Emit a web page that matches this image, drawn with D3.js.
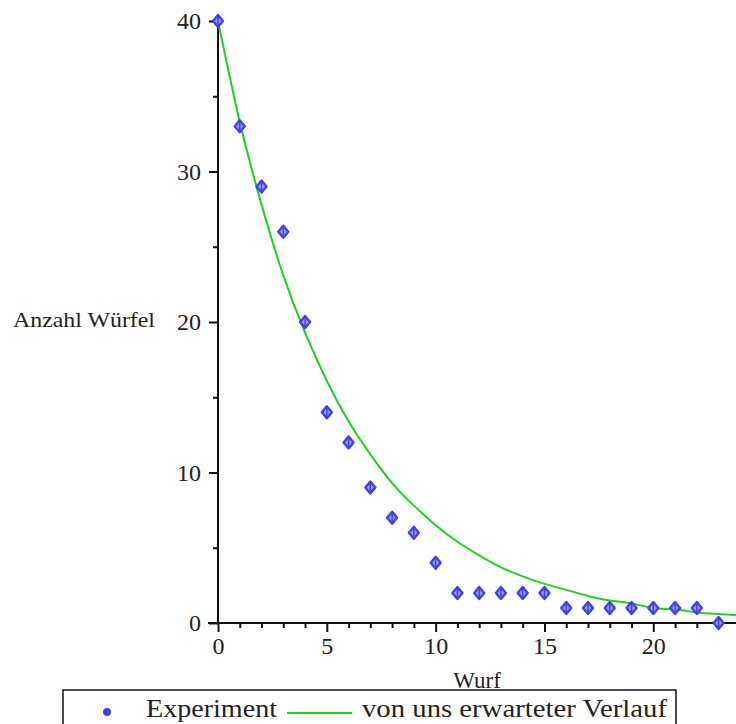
<!DOCTYPE html>
<html><head><meta charset="utf-8">
<script src="https://cdn.jsdelivr.net/npm/d3@7"></script>
<style>body{margin:0;background:#fff}svg{display:block}text{font-family:"Liberation Serif","Times New Roman",serif;fill:#222}</style>
</head><body><svg id="c" width="736" height="724"></svg>
<script>
// Data
const wurf = [0,1,2,3,4,5,6,7,8,9,10,11,12,13,14,15,16,17,18,19,20,21,22,23];
const anzahl = [40,33,29,26,20,14,12,9,7,6,4,2,2,2,2,2,1,1,1,1,1,1,1,0];
const erwartetX = [0,1,2,3,4,5,6,7,8,9,10,11,12,13,14,15,16,17,18,19,20,21,22,23,24];
const erwartetY = [40,33.3,27.8,23.1,19.3,16.1,13.4,11.2,9.3,7.8,6.5,5.4,4.5,3.7,3.1,2.6,2.2,1.8,1.5,1.3,1.0,0.9,0.7,0.6,0.5];
const xMajorTicks = [0,5,10,15,20];
const xMinorTicks = [1,2,3,4,6,7,8,9,11,12,13,14,16,17,18,19,21,22,23];
const yMajorTicks = [0,10,20,30,40];
const yMinorTicks = [5,15,25,35];
const legendLabels = ["Experiment","von uns erwarteter Verlauf"];
const xTitle = "Wurf", yTitle = "Anzahl Würfel";

const svg = d3.select("#c");
const x = d3.scaleLinear().domain([0,23.8]).range([218,736]);
const y = d3.scaleLinear().domain([0,40]).range([623,21]);
const blue = "#4040e8", green = "#22d022";

svg.append("clipPath").attr("id","clip").append("rect").attr("x",200).attr("y",0).attr("width",536).attr("height",640);

// axes
const xAxis = d3.axisBottom(x).tickValues(xMajorTicks).tickSize(9).tickPadding(5).tickFormat(d3.format("d"));
const gx = svg.append("g").attr("transform",`translate(0,${y(0)})`).call(xAxis);
gx.select(".domain").remove();
gx.selectAll(".tick line").attr("stroke","#111").attr("stroke-width",2);
gx.selectAll(".tick text").style("font-size","24px").attr("fill","#222");
svg.append("g").attr("transform",`translate(0,${y(0)})`).call(d3.axisBottom(x).tickValues(xMinorTicks).tickSize(5).tickFormat(""))
  .call(g=>{g.select(".domain").remove();g.selectAll(".tick line").attr("stroke","#111").attr("stroke-width",2);});
svg.append("line").attr("x1",x(0)-10).attr("x2",736).attr("y1",y(0)).attr("y2",y(0)).attr("stroke","#111").attr("stroke-width",2);

const yAxis = d3.axisLeft(y).tickValues(yMajorTicks).tickSize(9).tickPadding(8).tickFormat(d3.format("d"));
const gy = svg.append("g").attr("transform",`translate(${x(0)},0)`).call(yAxis);
gy.select(".domain").remove();
gy.selectAll(".tick line").attr("stroke","#111").attr("stroke-width",2);
gy.selectAll(".tick text").style("font-size","24px").attr("fill","#222");
svg.append("g").attr("transform",`translate(${x(0)},0)`).call(d3.axisLeft(y).tickValues(yMinorTicks).tickSize(5).tickFormat(""))
  .call(g=>{g.select(".domain").remove();g.selectAll(".tick line").attr("stroke","#111").attr("stroke-width",2);});
svg.append("line").attr("x1",x(0)).attr("x2",x(0)).attr("y1",y(40)).attr("y2",y(0)).attr("stroke","#111").attr("stroke-width",2);

// titles
svg.append("text").attr("x",x(11.9)).attr("y",688).attr("text-anchor","middle").style("font-size","23px").text(xTitle);
svg.append("text").attr("x",13).attr("y",327).attr("textLength",142).attr("lengthAdjust","spacingAndGlyphs").style("font-size","22px").text(yTitle);

// expected curve
const line = d3.line().x((d,i)=>x(erwartetX[i])).y(d=>y(d)).curve(d3.curveNatural);
svg.append("path").attr("clip-path","url(#clip)").datum(erwartetY).attr("d",line)
  .attr("fill","none").attr("stroke",green).attr("stroke-width",2);

// markers
const diamond = "M0,-6L5,0L0,6L-5,0Z";
const mk = svg.append("g").selectAll("g").data(anzahl).join("g")
  .attr("transform",(d,i)=>`translate(${x(wurf[i])},${y(d)})`);
mk.append("path").attr("d",diamond).attr("fill","#9c9cf6").attr("stroke",blue).attr("stroke-width",2.4).attr("stroke-linejoin","round");
mk.append("line").attr("y1",-6).attr("y2",6).attr("stroke",blue).attr("stroke-width",1.5);

// legend
svg.append("rect").attr("x",63).attr("y",690).attr("width",613).attr("height",60).attr("fill","#fff").attr("stroke","#111").attr("stroke-width",1.5);
svg.append("circle").attr("cx",107).attr("cy",712).attr("r",4).attr("fill",blue);
svg.append("text").attr("x",146).attr("y",717).attr("textLength",131).attr("lengthAdjust","spacingAndGlyphs").style("font-size","25px").text(legendLabels[0]);
svg.append("line").attr("x1",287).attr("x2",352).attr("y1",713).attr("y2",713).attr("stroke",green).attr("stroke-width",2);
svg.append("text").attr("x",362).attr("y",717).attr("textLength",305).attr("lengthAdjust","spacingAndGlyphs").style("font-size","25px").text(legendLabels[1]);
</script></body></html>
